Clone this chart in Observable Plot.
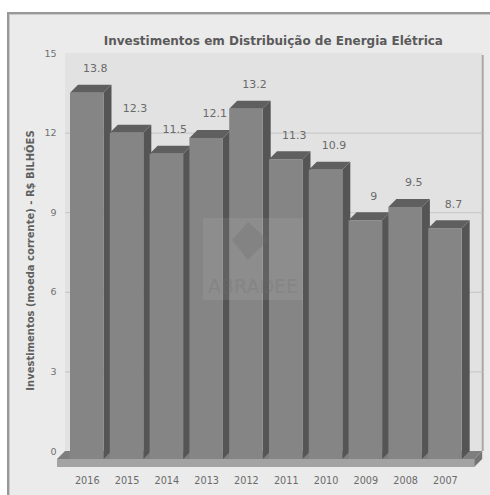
<!DOCTYPE html>
<html>
<head>
<meta charset="utf-8">
<script src="https://cdn.jsdelivr.net/npm/d3@7"></script>
<script src="https://cdn.jsdelivr.net/npm/@observablehq/plot@0.6"></script>
<style>
html,body{margin:0;padding:0;background:#fff;width:490px;height:495px;overflow:hidden}
#frame{position:absolute;left:7px;top:12px;right:0;bottom:0;background:#ebebeb;border-left:2px solid #989898;border-top:2px solid #989898;box-shadow:inset 1px 1px 0 #c8c8c8}
#chart{position:absolute;left:0;top:0}
</style>
</head>
<body>
<div id="frame"></div>
<div id="chart"></div>
<script>
const years = ["2016","2015","2014","2013","2012","2011","2010","2009","2008","2007"];
const investments = [13.8,12.3,11.5,12.1,13.2,11.3,10.9,9,9.5,8.7];
const yTicks = [0,3,6,9,12,15];
const titleText = "Investimentos em Distribuição de Energia Elétrica";
const yTitle = "Investimentos (moeda corrente) - R$ BILHÕES";
const data = years.map((year,i)=>({year,value:investments[i]}));

const FONT = "'DejaVu Sans', sans-serif";
const DEPTH = 8;
const svgEl = (name, attrs, text) => {
  const el = document.createElementNS("http://www.w3.org/2000/svg", name);
  for (const k in attrs) el.setAttribute(k, attrs[k]);
  if (text != null) el.textContent = text;
  return el;
};
const poly = (pts, fill) => svgEl("polygon",{points:pts.map(p=>p.join(",")).join(" "),fill});

const wall = (index,{x,y}) => {
  const g = svgEl("g",{});
  const [l,r] = x.range();
  const left = l-5, right = r+21;
  const top = y(15)-DEPTH, bottom = y(0)-DEPTH;
  g.append(svgEl("rect",{x:left,y:top,width:right-left,height:bottom-top,fill:"#e2e2e2"}));
  g.append(svgEl("rect",{x:right-1,y:top+2,width:2,height:bottom-top-2,fill:"#a8a8a8"}));
  return g;
};
const platform = (index,{x,y}) => {
  const g = svgEl("g",{});
  const [l,r] = x.range();
  const a = l-13, b = r+12.5, y0 = y(0), h = 8;
  g.append(poly([[a,y0],[a+DEPTH,y0-DEPTH],[b+DEPTH,y0-DEPTH],[b,y0]],"#7e7e7e"));
  g.append(poly([[b,y0],[b+DEPTH,y0-DEPTH],[b+DEPTH,y0],[b,y0+h]],"#747474"));
  g.append(svgEl("rect",{x:a,y:y0,width:b-a,height:h,fill:"#a3a3a3"}));
  return g;
};
const faces = (index,{x,y}) => {
  const g = svgEl("g",{});
  const w = x.bandwidth();
  for (const d of data) {
    const l = x(d.year), r = l+w, t = y(d.value), b = y(0);
    g.append(poly([[r,b],[r,t],[r+DEPTH,t-DEPTH],[r+DEPTH,b-DEPTH]],"#555555"));
    g.append(poly([[l,t],[l+DEPTH,t-DEPTH],[r+DEPTH,t-DEPTH],[r,t]],"#5f5f5f"));
  }
  return g;
};
const watermark = () => {
  const g = svgEl("g",{});
  g.append(svgEl("rect",{x:203,y:218,width:100,height:82,fill:"#ffffff",opacity:0.07}));
  g.append(poly([[248,222],[268,240],[248,260],[232,240]],"#6e6e6e"));
  g.lastChild.setAttribute("opacity",0.3);
  g.append(svgEl("text",{x:253,y:293,"text-anchor":"middle","font-family":FONT,"font-size":19,fill:"#6e6e6e",opacity:0.25},"ABRADEE"));
  return g;
};

const chart = Plot.plot({
  width:490, height:495,
  marginLeft:70, marginRight:28.3, marginTop:61, marginBottom:36,
  style:{background:"transparent",fontFamily:FONT,overflow:"visible"},
  x:{domain:years,paddingInner:0.158,paddingOuter:0,round:false,label:null},
  y:{domain:[0,15],label:null},
  marks:[
    wall,
    Plot.ruleY(yTicks.filter(t=>t>0&&t<15),{y:d=>d,dy:-DEPTH,insetLeft:-5,insetRight:-21,stroke:"#c4c4c4",strokeWidth:1}),
    platform,
    faces,
    Plot.barY(data,{x:"year",y:"value",fill:"#858585"}),
    watermark,
    Plot.axisX({tickSize:0,tickPadding:18,fontSize:9.7,fill:"#6a6a6a",label:null}),
    Plot.axisY({ticks:yTicks,tickSize:0,tickPadding:14,dy:-DEPTH,fontSize:9.5,fill:"#707070",label:null}),
    Plot.text(data,{x:"year",y:"value",text:d=>String(d.value),dx:8,dy:-24.5,fontSize:11,fill:"#6a6a6a"}),
    Plot.text([titleText],{frameAnchor:"top",text:d=>d,dx:7,dy:-25,fontSize:12,fontWeight:"bold",fill:"#5a5a5a"}),
    Plot.text([yTitle],{frameAnchor:"left",text:d=>d,rotate:-90,textAnchor:"middle",dx:-40,dy:0,fontSize:10,fontWeight:"bold",fill:"#5f5f5f"})
  ]
});
document.getElementById("chart").append(chart);
</script>
</body>
</html>
